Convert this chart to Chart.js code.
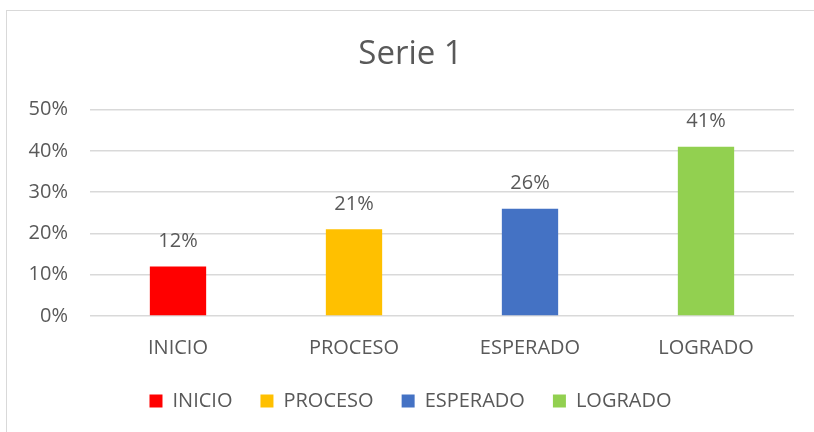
<!DOCTYPE html>
<html>
<head>
<meta charset="utf-8">
<script src="https://cdn.jsdelivr.net/npm/chart.js@4.4.0/dist/chart.umd.min.js"></script>
<style>
  body { margin: 0; background: #fff; overflow: hidden; }
  #frame { position: absolute; left: 6px; top: 10px; width: 830px; height: 440px; border: 1px solid #d9d9d9; }
  #wrap { position: absolute; left: 0; top: 0; width: 814px; height: 432px; }
</style>
</head>
<body>
<div id="frame"></div>
<div id="wrap"><canvas id="chart" width="814" height="432"></canvas></div>
<script>
const categories = ['INICIO', 'PROCESO', 'ESPERADO', 'LOGRADO'];
const values = [0.12, 0.21, 0.26, 0.41];
const barColors = ['#FF0000', '#FFC000', '#4472C4', '#92D050'];
const yTicks = [0, 0.1, 0.2, 0.3, 0.4, 0.5];

const textColor = '#595959';
const fontFamily = '"Open Sans", "Liberation Sans", sans-serif';

// draws the % value above each bar
const barLabels = {
  id: 'barLabels',
  afterDatasetsDraw(chart) {
    const ctx = chart.ctx;
    const meta = chart.getDatasetMeta(0);
    ctx.save();
    ctx.fillStyle = textColor;
    ctx.font = '20px ' + fontFamily;
    ctx.textAlign = 'center';
    ctx.textBaseline = 'middle';
    meta.data.forEach((bar, i) => {
      ctx.fillText(Math.round(values[i] * 100) + '%', bar.x, bar.y - 25);
    });
    ctx.restore();
  }
};

new Chart(document.getElementById('chart'), {
  type: 'bar',
  data: {
    labels: categories,
    datasets: [{
      label: 'Serie 1',
      data: values,
      backgroundColor: barColors,
      categoryPercentage: 1,
      barPercentage: 0.32
    }]
  },
  plugins: [barLabels],
  options: {
    responsive: false,
    animation: false,
    layout: { padding: { left: 27, right: 20, top: 25, bottom: 11 } },
    plugins: {
      title: {
        display: true,
        text: 'Serie 1',
        color: textColor,
        font: { family: fontFamily, size: 33, weight: 'normal' },
        padding: { top: 10, bottom: 35 }
      },
      legend: {
        position: 'bottom',
        labels: {
          color: textColor,
          font: { family: fontFamily, size: 20 },
          boxWidth: 13,
          boxHeight: 13,
          padding: 28,
          generateLabels: (chart) => categories.map((c, i) => ({
            text: c,
            fillStyle: barColors[i],
            strokeStyle: barColors[i],
            lineWidth: 0,
            fontColor: textColor,
            index: i
          }))
        }
      },
      tooltip: { enabled: false }
    },
    scales: {
      x: {
        grid: { display: false },
        border: { display: false },
        ticks: { color: textColor, font: { family: fontFamily, size: 20 }, padding: 12 },
        afterFit: (s) => { s.height = 47; }
      },
      y: {
        min: 0,
        max: 0.5,
        afterBuildTicks: (s) => { s.ticks = yTicks.map(v => ({ value: v })); },
        grid: { color: '#d9d9d9', lineWidth: 1.5, drawTicks: false },
        border: { display: false },
        ticks: {
          color: textColor,
          font: { family: fontFamily, size: 20 },
          padding: 22,
          callback: (v) => Math.round(v * 100) + '%'
        },
        afterFit: (s) => { s.width = 63; }
      }
    }
  }
});
</script>
</body>
</html>
